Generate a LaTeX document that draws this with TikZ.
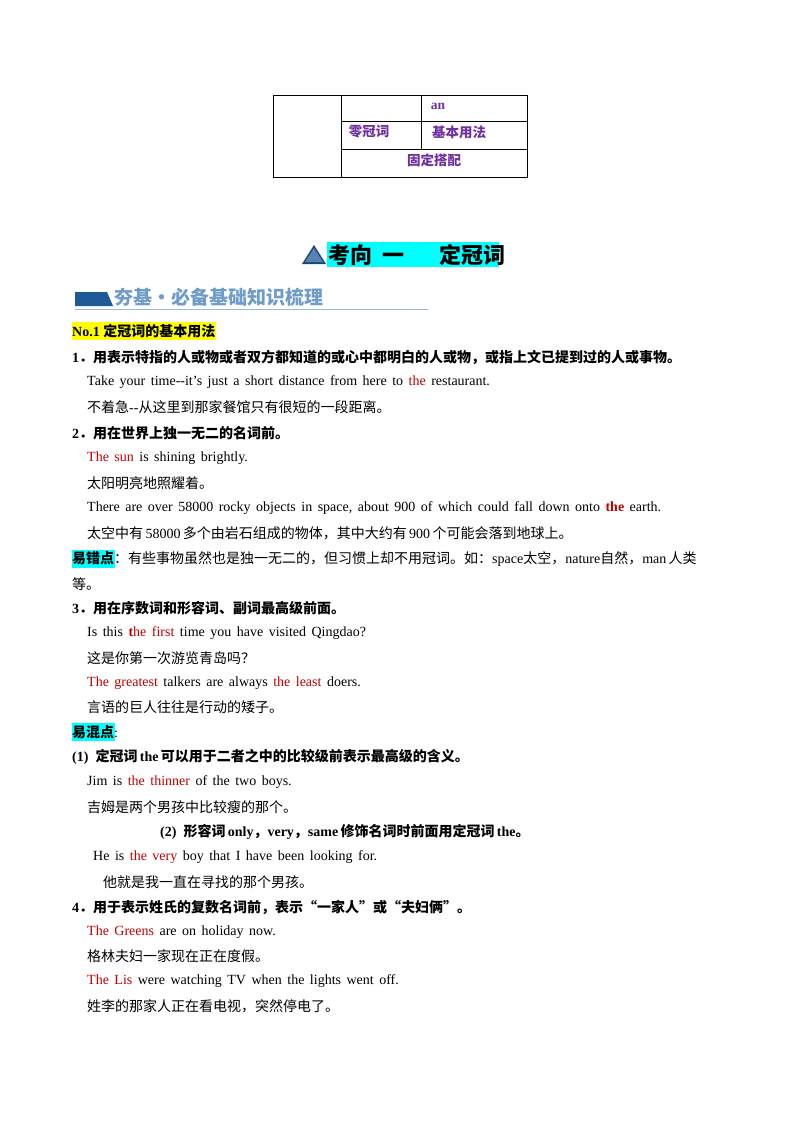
\documentclass[tikz,border=0pt]{standalone}
\usepackage{fontspec}
\setmainfont{Liberation Serif}
\newfontfamily\cjk{Noto Sans CJK SC}
\definecolor{pur}{HTML}{7030A0}
\definecolor{rd}{HTML}{C00000}
\definecolor{cy}{HTML}{00FFFF}
\definecolor{yl}{HTML}{FFFF00}
\definecolor{bnr}{HTML}{1F5A96}
\definecolor{bnt}{HTML}{6F9CC8}
\newcommand{\C}[1]{{\cjk #1}}
\newcommand{\R}[1]{\textcolor{rd}{#1}}
\newcommand{\s}{\hspace{5.5pt}}
\tikzset{ln/.style={anchor=west,inner sep=0pt,font=\fontsize{14}{16}\selectfont},
 tb/.style={anchor=center,inner sep=0pt,text=pur,font=\fontsize{13.5}{15}\selectfont\bfseries}}
\begin{document}
\begin{tikzpicture}[x=1pt,y=-1pt]
\useasboundingbox (0,0) rectangle (800,1132);
\fill[white] (0,0) rectangle (800,1132);
% table
\draw[line width=0.8pt] (273,95) rectangle (527,177);
\draw[line width=0.8pt] (341,95) -- (341,177) (341,121) -- (527,121) (341,149) -- (527,149) (421,95) -- (421,149);
\node[tb] (an) at (438,106) {an};
\node[tb] (lg) at (369,132) {\C{\bfseries 零冠词}};
\node[tb] (jb) at (459,132) {\C{\bfseries 基本用法}};
\node[tb] (gd) at (434,160) {\C{\bfseries 固定搭配}};
% heading
\fill[cy] (327,242) rectangle (499,267);
\fill[bnr!80!black] (302,264) -- (314,245) -- (326,264) -- cycle;
\fill[bnr!75] (305,262) -- (314,248) -- (323,262) -- cycle;
\node[anchor=west,inner sep=0pt,font=\fontsize{22}{24}\selectfont] (hd) at (328,255) {\C{\bfseries 考向\ \ 一\ \ \ \ \ \ \ 定冠词}};
% banner
\fill[bnr] (75,292) -- (107,292) -- (113,306) -- (75,306) -- cycle;
\draw[bnt!70,line width=0.8pt] (75,309) -- (428,309);
\node[anchor=west,inner sep=0pt,text=bnt,font=\fontsize{19}{21}\selectfont] (bn) at (114,297) {\C{\bfseries 夯基·必备基础知识梳理}};
% No.1
\fill[yl] (72,322) rectangle (216,340);
\node[ln] (n1) at (72,331) {\textbf{No.1 }\C{\bfseries 定冠词的基本用法}};
\node[ln] (l1) at (72,357) {\textbf{1}\C{\bfseries ．用表示特指的人或物或者双方都知道的或心中都明白的人或物，或指上文已提到过的人或事物。}};
\node[ln] (l2) at (87,382) {Take\s your\s time-{}-it’s\s just\s a\s short\s distance\s from\s here\s to\s \R{the}\s restaurant.};
\node[ln] (l3) at (87,407) {\C{不着急}-{}-\C{从这里到那家餐馆只有很短的一段距离。}};
\node[ln] (l4) at (72,433) {\textbf{2}\C{\bfseries ．用在世界上独一无二的名词前。}};
\node[ln] (l5) at (87,458) {\R{The\s sun}\s is\s shining\s brightly.};
\node[ln] (l6) at (87,483) {\C{太阳明亮地照耀着。}};
\node[ln] (l7) at (87,508) {There\s are\s over\s 58000\s rocky\s objects\s in\s space,\s about\s 900\s of\s which\s could\s fall\s down\s onto\s \R{\textbf{the}}\s earth.};
\node[ln] (l8) at (87,533) {\C{太空中有}\,58000\,\C{多个由岩石组成的物体，其中大约有}\,900\,\C{个可能会落到地球上。}};
\fill[cy] (72,550) rectangle (115,568);
\node[ln] (l9) at (72,559) {\C{\bfseries 易错点}\C{：有些事物虽然也是独一无二的，但习惯上却不用冠词。如：}space\C{太空，}nature\C{自然，}man\,\C{人类}};
\node[ln] (l10) at (72,584) {\C{等。}};
\node[ln] (l11) at (72,608) {\textbf{3}\C{\bfseries ．用在序数词和形容词、副词最高级前面。}};
\node[ln] (l12) at (87,633) {Is\s this\s \R{\textbf{t}he\s first}\s time\s you\s have\s visited\s Qingdao?};
\node[ln] (l13) at (87,658) {\C{这是你第一次游览青岛吗？}};
\node[ln] (l14) at (87,683) {\R{The\s greatest}\s talkers\s are\s always\s \R{the\s least}\s doers.};
\node[ln] (l15) at (87,707) {\C{言语的巨人往往是行动的矮子。}};
\fill[cy] (72,723) rectangle (115,741);
\node[ln] (l16) at (72,732) {\C{\bfseries 易混点}:};
\node[ln] (l17) at (72,757) {\textbf{(1)\ \ }\C{\bfseries 定冠词}\,\textbf{the}\,\C{\bfseries 可以用于二者之中的比较级前表示最高级的含义。}};
\node[ln] (l18) at (87,782) {Jim\s is\s \R{the\s thinner}\s of\s the\s two\s boys.};
\node[ln] (l19) at (87,807) {\C{吉姆是两个男孩中比较瘦的那个。}};
\node[ln] (l20) at (160,832) {\textbf{(2)\ \ }\C{\bfseries 形容词}\,\textbf{only}\C{\bfseries ，}\textbf{very}\C{\bfseries ，}\textbf{same}\,\C{\bfseries 修饰名词时前面用定冠词}\,\textbf{the}\C{\bfseries 。}};
\node[ln] (l21) at (93,857) {He\s is\s \R{the\s very}\s boy\s that\s I\s have\s been\s looking\s for.};
\node[ln] (l22) at (103,882) {\C{他就是我一直在寻找的那个男孩。}};
\node[ln] (l23) at (72,907) {\textbf{4}\C{\bfseries ．用于表示姓氏的复数名词前，表示“一家人”或“夫妇俩”。}};
\node[ln] (l24) at (87,932) {\R{The\s Greens}\s are\s on\s holiday\s now.};
\node[ln] (l25) at (87,956) {\C{格林夫妇一家现在正在度假。}};
\node[ln] (l26) at (87,981) {\R{The\s Lis}\s were\s watching\s TV\s when\s the\s lights\s went\s off.};
\node[ln] (l27) at (87,1006) {\C{姓李的那家人正在看电视，突然停电了。}};
\end{tikzpicture}
\end{document}
